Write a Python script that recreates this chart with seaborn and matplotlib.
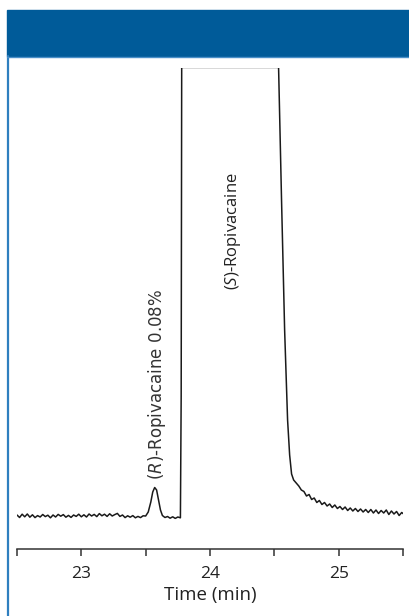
import numpy as np
import pandas as pd
import matplotlib
matplotlib.use("Agg")
import matplotlib.pyplot as plt
from matplotlib.patches import Rectangle
from matplotlib.lines import Line2D
import seaborn as sns

# Retention time (min) and detector signal (arbitrary units)
time_left = [22.50, 22.52, 22.54, 22.56, 22.58, 22.60, 22.62, 22.64, 22.66, 22.68,
             22.70, 22.72, 22.74, 22.76, 22.78, 22.80, 22.82, 22.84, 22.86, 22.88,
             22.90, 22.92, 22.94, 22.96, 22.98, 23.00, 23.02, 23.04, 23.06, 23.08,
             23.10, 23.12, 23.14, 23.16, 23.18, 23.20, 23.22, 23.24, 23.26, 23.28,
             23.30, 23.32, 23.34, 23.36, 23.38, 23.40, 23.42, 23.44, 23.46, 23.48]
signal_left = [1.0, -1.5, 1.8, -0.8, 2.0, -1.2, 1.2, -1.6, 0.4, -1.0,
               1.5, -0.6, 0.8, -1.8, 1.0, -1.0, 1.6, -0.2, 1.4, -1.2,
               0.6, -1.4, 1.0, -0.4, 1.8, -0.8, 1.2, -1.0, 2.0, 0.0,
               1.6, -0.6, 2.4, 0.2, 1.8, -0.4, 2.2, 0.0, 1.4, 2.6,
               -0.4, 1.0, -1.6, 0.2, -1.2, 0.4, -1.8, -0.4, -1.6, 0.2]

time_peaks = [23.50, 23.52, 23.54, 23.555, 23.57, 23.585, 23.60, 23.615, 23.63, 23.65,
              23.67, 23.69, 23.71, 23.73, 23.75, 23.77, 23.776, 23.78,
              24.00, 24.20, 24.40, 24.533, 24.556, 24.58, 24.603, 24.619, 24.634]
signal_peaks = [0.0, 4.0, 14.0, 24.0, 28.5, 26.0, 16.0, 6.0, 0.5, -1.5,
                -0.5, -2.2, -0.8, -2.4, -1.0, -1.8, 120.0, 448.6,
                448.6, 448.6, 448.6, 448.6, 316.0, 186.0, 96.0, 61.0, 42.0]

time_tail = [24.65, 24.67, 24.69, 24.71, 24.73, 24.75, 24.77, 24.79, 24.81, 24.83,
             24.85, 24.87, 24.89, 24.91, 24.93, 24.95, 24.97, 24.99, 25.01, 25.03,
             25.05, 25.07, 25.09, 25.11, 25.13, 25.15, 25.17, 25.19, 25.21, 25.23,
             25.25, 25.27, 25.29, 25.31, 25.33, 25.35, 25.37, 25.39, 25.41, 25.43,
             25.45, 25.47, 25.49, 25.51]
signal_tail = [36.0, 33.0, 30.0, 26.0, 24.5, 20.0, 21.5, 16.5, 18.0, 13.5,
               15.5, 11.5, 13.5, 10.0, 12.0, 8.5, 11.0, 7.5, 9.5, 6.5,
               9.0, 5.5, 8.0, 5.0, 7.5, 4.5, 7.0, 4.0, 6.5, 3.5,
               6.5, 3.0, 6.0, 2.5, 5.5, 3.0, 6.0, 1.5, 5.0, 2.0,
               4.5, 0.5, 3.5, 1.5]

trace = pd.DataFrame({
    "time": time_left + time_peaks + time_tail,
    "signal": signal_left + signal_peaks + signal_tail,
})

sns.set_style("white")
plt.rcParams["font.family"] = ["Open Sans", "DejaVu Sans"]
plt.rcParams["mathtext.fontset"] = "custom"
plt.rcParams["mathtext.rm"] = "Open Sans"
plt.rcParams["mathtext.it"] = "Open Sans:italic"

fig = plt.figure(figsize=(4.10, 6.16), dpi=100)
ax = fig.add_axes([17 / 410, 67 / 616, 386 / 410, 481 / 616])

sns.lineplot(data=trace, x="time", y="signal", ax=ax, color="#1a1a1a",
             linewidth=1.1, sort=False, estimator=None)

ax.set_xlim(22.5, 25.5)
ax.set_ylim(-33, 448)
ax.set_xticks([23, 24, 25])
ax.set_xticks([22.5, 23.5, 24.5, 25.5], minor=True)
ax.set_yticks([])
ax.tick_params(axis="x", which="both", direction="out", length=5, width=1.1,
               color="#333333", bottom=True)
ax.tick_params(axis="x", which="major", labelsize=12.5, pad=7, labelcolor="#222222")
ax.set_xlabel("Time (min)", fontsize=13.5, color="#222222", labelpad=3)
ax.set_ylabel("")
for side in ["left", "right", "top"]:
    ax.spines[side].set_visible(False)
ax.spines["bottom"].set_color("#333333")
ax.spines["bottom"].set_linewidth(1.1)
ax.patch.set_alpha(0)

ax.text(23.585, 36, r"($\it{R}$)-Ropivacaine 0.08%", rotation=90, ha="center",
        va="bottom", fontsize=12, color="#333333", family="DejaVu Sans",
        math_fontfamily="dejavusans")
ax.text(24.18, 226, r"($\it{S}$)-Ropivacaine", rotation=90, ha="center",
        va="bottom", fontsize=12, color="#222222")

# blue header band and left frame line
fig.patches.append(Rectangle((7 / 410, 560 / 616), 403 / 410, 46 / 616,
                             transform=fig.transFigure, color="#005b99", zorder=0))
fig.lines.append(Line2D([8 / 410, 8 / 410], [0, 560 / 616], transform=fig.transFigure,
                        color="#2f7fbf", linewidth=1.6))
fig.lines.append(Line2D([7 / 410, 1], [559.5 / 616, 559.5 / 616], transform=fig.transFigure,
                        color="#4a8fc8", linewidth=1.0))

fig.savefig("out.png", dpi=100)
